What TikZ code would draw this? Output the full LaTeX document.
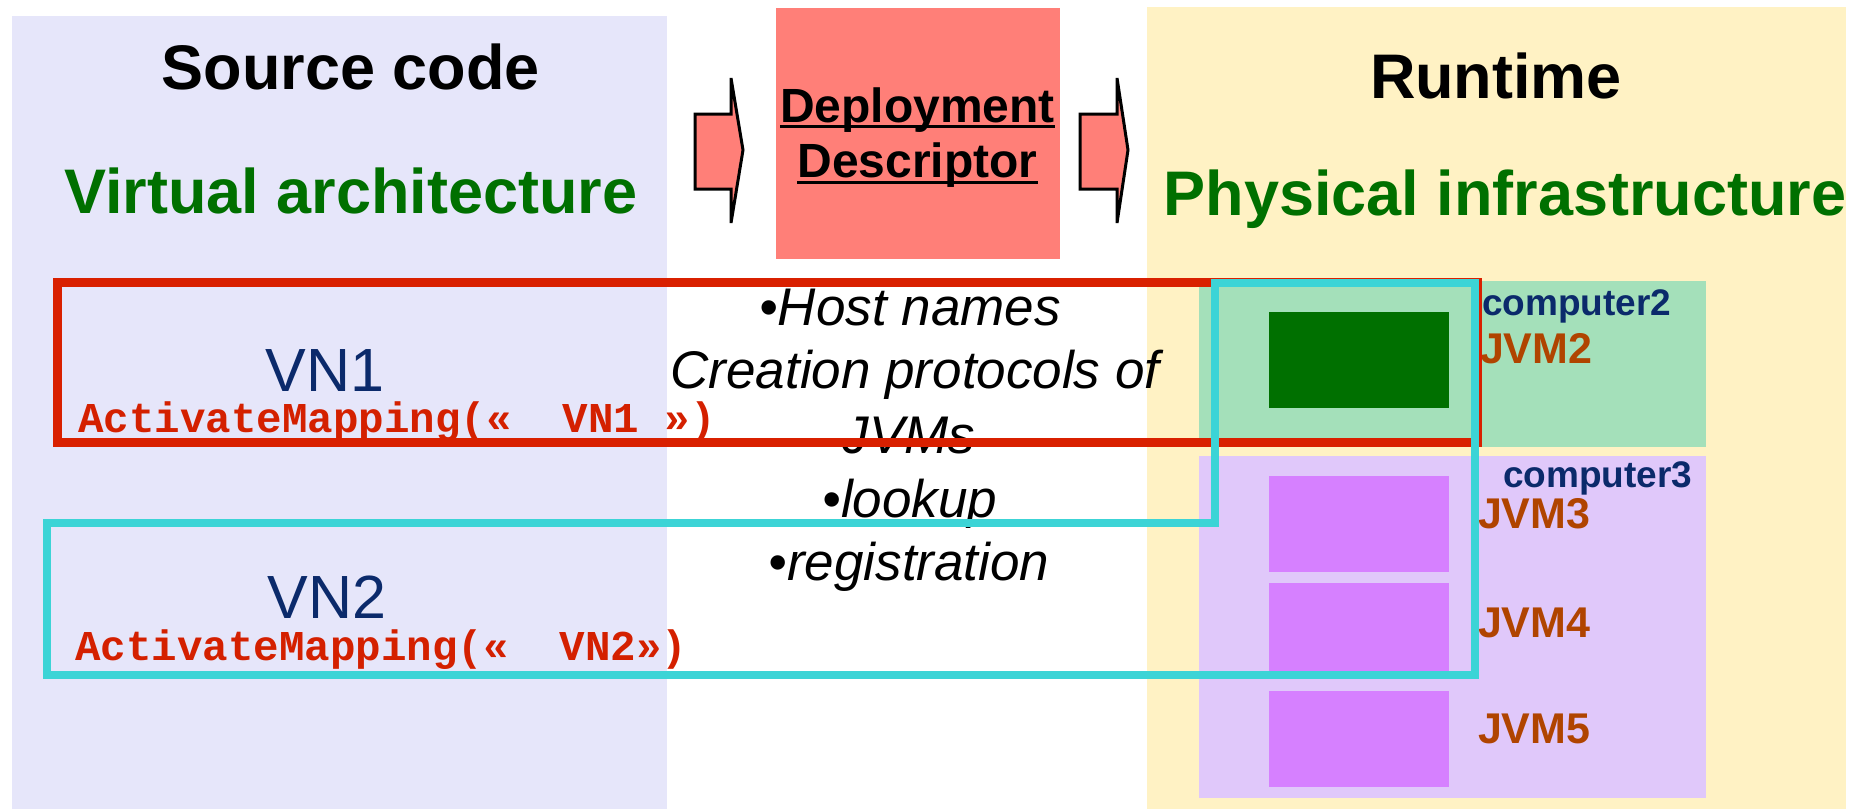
\documentclass[tikz,border=0pt]{standalone}
\usepackage{fontspec}
\setmainfont{Liberation Sans}
\newfontfamily\codefont{Liberation Mono}

\definecolor{panellav}{HTML}{E6E6FA}
\definecolor{panelsand}{HTML}{FFF2C4}
\definecolor{descsalmon}{HTML}{FF7F78}
\definecolor{titlegreen}{HTML}{007000}
\definecolor{vnnavy}{HTML}{0B2A6B}
\definecolor{codered}{HTML}{D42000}
\definecolor{framered}{HTML}{D92000}
\definecolor{frameteal}{HTML}{3CD4D6}
\definecolor{jvmbrown}{HTML}{B04400}
\definecolor{hostgreen}{HTML}{A4E0BA}
\definecolor{hostpurple}{HTML}{E0C8FA}
\definecolor{jvmgreen}{HTML}{007000}
\definecolor{jvmpurple}{HTML}{D680FF}

\newcommand\setsz[1]{\fontsize{#1}{#1}\selectfont}

\tikzset{
  txt/.style={inner sep=0pt, outer sep=0pt},
  title/.style={txt, font=\bfseries\setsz{63}},
  subtitle/.style={title, text=titlegreen},
  desc/.style={txt, font=\bfseries\setsz{48}},
  item/.style={txt, font=\itshape\setsz{53}},
  vn/.style={txt, font=\setsz{61}, text=vnnavy},
  code/.style={txt, font=\codefont\bfseries\setsz{42.5}, text=codered},
  host/.style={txt, font=\bfseries\setsz{37}, text=vnnavy},
  jvm/.style={txt, font=\bfseries\setsz{43}, text=jvmbrown},
  flowarrow/.style={fill=descsalmon, draw=black, line width=3pt, line join=miter},
}

\begin{document}
\begin{tikzpicture}[x=1pt, y=-1pt]
\useasboundingbox (0,0) rectangle (1863,809);

% background panels
\fill[panellav] (12,16) rectangle (667,809);
\fill[panelsand] (1147,7) rectangle (1846,809);

% deployment descriptor block and the two flow arrows
\fill[descsalmon] (776,8) rectangle (1060,259);
\draw[flowarrow] (695,114) -- (731,114) -- (731,78) -- (743,150)
  -- (731,223) -- (731,189) -- (695,189) -- cycle;
\draw[flowarrow] (1080,114) -- (1117,114) -- (1117,78) -- (1128,150)
  -- (1117,223) -- (1117,189) -- (1080,189) -- cycle;

\node[desc, anchor=base] (dep) at (917.5,122) {Deployment\ };
\node[desc, anchor=base] (descr) at (917.5,177) {Descriptor};
\draw[line width=3pt] ([yshift=-4pt]dep.base west) -- ([yshift=-4pt]dep.base east);
\draw[line width=3pt] ([yshift=-5pt]descr.base west) -- ([yshift=-5pt]descr.base east);

% titles
\node[title, anchor=base] (src) at (351,89) {Source code};
\node[subtitle, anchor=base] (virt) at (351,213) {Virtual architecture};
\node[title, anchor=base] (run) at (1496,98) {Runtime};
\node[subtitle, anchor=base] (phys) at (1505,215) {Physical infrastructure};

% hosts
\fill[hostgreen] (1199,281) rectangle (1706,447);
\fill[hostpurple] (1199,456) rectangle (1706,798);
\fill[jvmgreen] (1269,312) rectangle (1449,408);
\fill[jvmpurple] (1269,476) rectangle (1449,572);
\fill[jvmpurple] (1269,583) rectangle (1449,672);
\fill[jvmpurple] (1269,691) rectangle (1449,787);

\node[host, anchor=base west] (c2) at (1482,315) {computer2};
\node[host, anchor=base west] (c3) at (1503,487) {computer3};
\node[jvm, anchor=base west] (j2) at (1480,363) {JVM2};
\node[jvm, anchor=base west] (j3) at (1478,528) {JVM3};
\node[jvm, anchor=base west] (j4) at (1478,637) {JVM4};
\node[jvm, anchor=base west] (j5) at (1478,743) {JVM5};

% virtual nodes
\node[vn, anchor=base] (vn1) at (325,391) {VN1};
\node[code, anchor=base west] (map1) at (78,432) {ActivateMapping(«~~VN1~»)};
\node[vn, anchor=base] (vn2) at (327,618) {VN2};
\node[code, anchor=base west] (map2) at (75,660) {ActivateMapping(«~~VN2»)};

% descriptor contents
\node[item, anchor=base] (l1) at (910,325) {•Host names};
\node[item, anchor=base] (l2) at (915,388) {Creation protocols of};
\node[item, anchor=base] (l3) at (909,453) {JVMs};
\node[item, anchor=base] (l4) at (910,517) {•lookup};
\node[item, anchor=base] (l5) at (909,580) {•registration};

% mapping frames
\draw[framered, line width=9pt] (57,282) rectangle (1477,442);
\draw[frameteal, line width=8pt, line join=miter]
  (1215,283) -- (1475,283) -- (1475,675) -- (47,675) -- (47,523)
  -- (1215,523) -- cycle;
\end{tikzpicture}
\end{document}
